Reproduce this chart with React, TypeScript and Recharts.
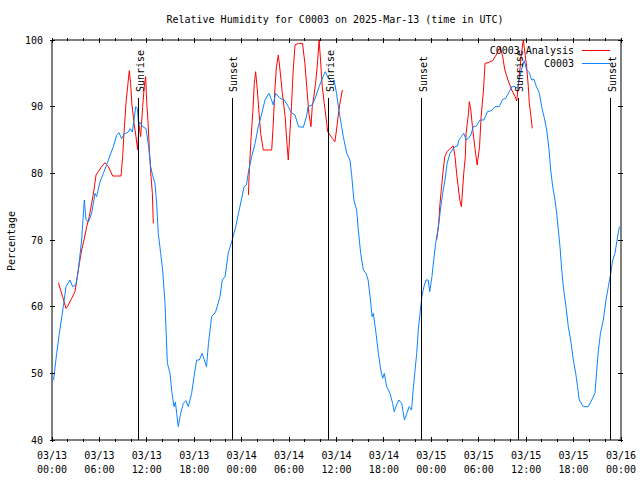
import React from 'react';
import { LineChart, Line, XAxis, YAxis, ReferenceLine } from 'recharts';

const FONT = '"DejaVu Sans Mono", monospace';
const RED = '#ff0000';
const BLUE = '#0a84ff';

// hours since 03/13 00:00 UTC
const obsHours = [
  0.2, 0.59, 0.93, 1.43, 1.77, 2.28, 2.61, 3.03, 3.33, 3.75, 4.09, 4.3, 4.6, 5.02, 5.44, 5.65,
  6.07, 6.5, 7.13, 7.76, 8.18, 8.48, 8.81, 9.11, 9.66, 9.87, 10.17, 10.38, 10.59, 10.8, 10.97,
  11.1, 11.47, 11.9, 12.23, 12.48, 12.73, 13.03, 13.24, 13.45, 13.75, 14.0, 14.3, 14.6, 14.93,
  15.19, 15.44, 15.61, 15.78, 15.98, 16.28, 16.62, 16.95, 17.25, 17.67, 17.97, 18.3, 18.64,
  19.0, 19.55, 19.8, 20.2, 20.7, 21.26, 21.55, 21.9, 22.3, 22.8, 23.25, 23.6, 24.0, 24.3, 24.6,
  24.9, 25.27, 25.7, 26.1, 26.5, 26.95, 27.46, 27.7, 28.0, 28.3, 28.85, 29.4, 29.9, 30.3, 30.75,
  31.2, 31.8, 32.2, 32.4, 32.9, 33.3, 33.8, 34.3, 34.6, 34.96, 35.4, 35.7, 36.0, 36.3, 36.65,
  36.86, 37.3, 37.7, 37.9, 38.2, 38.55, 38.76, 39.06, 39.4, 39.73, 40.0, 40.3, 40.5, 40.66, 41.0,
  41.3, 41.6, 41.85, 42.05, 42.35, 42.77, 43.1, 43.3, 43.6, 43.9, 44.25, 44.6, 44.9, 45.2, 45.5,
  45.7, 45.9, 46.15, 46.35, 46.57, 46.8, 47.07, 47.32, 47.6, 47.8, 48.08, 48.3, 48.55, 48.76,
  49.0, 49.2, 49.44, 49.73, 50.0, 50.36, 50.78, 51.0, 51.3, 51.5, 51.8, 52.1, 52.4, 52.7, 53.0,
  53.3, 53.7, 54.16, 54.66, 55.1, 55.6, 56.05, 56.6, 57.03, 57.4, 57.87, 58.17, 58.6, 58.9, 59.2,
  59.5, 59.76, 60.06, 60.4, 60.7, 60.99, 61.3, 61.67, 61.96, 62.26, 62.6, 62.9, 63.1, 63.36,
  63.65, 63.86, 64.07, 64.28, 64.5, 64.7, 65.04, 65.33, 65.63, 65.97, 66.27, 66.5, 66.72, 67.23,
  67.86, 68.3, 68.7, 68.9, 69.1, 69.4, 69.76, 70.1, 70.4, 70.7, 70.95, 71.24, 71.5, 71.8,
];
const obsValues = [
  49, 53, 56, 60, 63, 64, 63, 63.3, 65.5, 70, 76, 73, 72.7, 74, 77, 76.5,
  78.7, 80, 82, 84, 85.7, 86.1, 85.2, 85.9, 86.2, 86.7, 86.2, 88, 90, 89.7, 87.2,
  87.7, 87, 86.7, 84, 81, 79.7, 78.5, 75.5, 71, 68, 65.5, 60.5, 51.5, 50,
  47, 45, 45.7, 44, 42, 44, 45.5, 45.9, 45, 47, 49.5, 52, 52,
  53, 51, 54.5, 58.5, 59.2, 61.5, 64, 64.5, 68, 70, 72, 74, 76.25, 78, 78.25,
  80.5, 82.5, 84.5, 87, 88.75, 91, 92, 91.25, 90.25, 92, 91.25, 91, 90, 89.1, 88.75,
  87, 86.9, 88.5, 90, 90.25, 91.25, 93, 94.5, 95.25, 94.25, 93.75, 94, 92, 89.5, 87,
  85.5, 83, 82, 80, 76, 74.5, 71.5, 68, 65.5, 65, 64, 61, 58.5, 59, 56,
  53, 50.5, 49.25, 50, 48, 47, 45.5, 44.25, 45.25, 46, 45.5, 43, 44, 45, 44.5,
  47.5, 50, 53, 56.5, 59, 61.5, 63, 64, 64, 62.25, 64.5, 67, 69.5, 71,
  73, 75, 77, 79, 81.5, 83, 83.75, 84, 84.1, 85, 85.5, 86, 85, 85.25, 85.75,
  87, 87.1, 88, 88, 89.25, 89.4, 90, 90, 91.1, 91.25, 92.25, 93, 93, 92.75, 94.5,
  96, 96.9, 95.5, 95.1, 94, 94.1, 93, 92, 90, 88.5, 86.5, 83.5, 80.5, 78,
  76, 74, 71.5, 69, 65.5, 63, 60, 57, 55, 52, 50, 48, 46, 45,
  45, 46, 47, 50, 53, 56, 58, 61, 63, 65, 67, 68, 70, 72,
];

// analysis has gaps (null) between the three runs
const anaHours = [
  0.8, 1.35, 1.77, 2.07, 2.49, 2.91, 3.2, 3.46, 3.75, 4.05, 4.39, 4.72, 5.02, 5.31, 5.57, 5.86,
  6.28, 6.7, 7.13, 7.68, 8.18, 8.73, 8.94, 9.11, 9.36, 9.57, 9.78, 9.95, 10.1, 10.38, 10.63,
  10.84, 11.0, 11.22, 11.47, 11.68, 11.85, 11.98, 12.15, 12.32, 12.53, 12.7, 12.82,
  18,
  24.85, 24.97, 25.2, 25.4, 25.6, 25.77, 25.98, 26.2, 26.4, 26.74, 27.16, 27.8, 28.0, 28.2, 28.4,
  28.64, 28.85, 29.15, 29.5, 29.7, 29.9, 30.1, 30.3, 30.5, 30.75, 31.2, 31.7, 32.0, 32.3, 32.5,
  32.77, 32.93, 33.14, 33.35, 33.56, 33.8, 33.98, 34.2, 34.45, 34.66, 34.88, 35.17, 35.47, 35.8,
  36.0, 36.2, 36.4, 36.74,
  42,
  48.67, 48.9, 49.1, 49.3, 49.5, 49.7, 50.0, 50.4, 50.78, 51.0, 51.2, 51.4, 51.6, 51.8, 51.95,
  52.1, 52.3, 52.4, 52.7, 52.8, 53.0, 53.2, 53.4, 53.6, 53.8, 54.1, 54.3, 54.6, 54.8, 55.2,
  55.76, 56.2, 56.7, 57.03, 57.3, 57.7, 58.17, 58.6, 58.8, 59.0, 59.2, 59.4, 59.64, 59.8, 60.06,
  60.27, 60.4, 60.56, 60.77,
];
const anaValues = [
  63.6, 61.5, 59.75, 60.25, 61.25, 62.25, 64.5, 66.5, 68.5, 70, 72, 73.5, 75.5, 77.5, 79.75, 80.25,
  81, 81.6, 81, 79.6, 79.6, 79.6, 82.5, 86, 90.5, 93, 95.4, 93.5, 90.5, 87.5, 85.5,
  83.5, 87.25, 85.5, 90, 93, 94.5, 90.75, 87.75, 83.5, 79.5, 77, 72.5,
  null,
  76.75, 80.5, 85.5, 89, 93.5, 95.25, 92.5, 89, 86, 83.5, 83.5, 83.5, 87.5, 92.5, 96,
  97.75, 95.5, 92, 88.5, 85, 82, 86, 90, 95, 99.25, 99.5, 99.5, 96.5, 92, 89,
  87, 90, 91.5, 93.5, 96, 100, 97, 93, 90.5, 88.5, 86.25, 85.75, 85.25, 84.75,
  86.5, 88.5, 90.25, 92.5,
  null,
  70, 72, 75.5, 78, 80.5, 82.5, 83.25, 83.75, 84.1, 82.5, 80, 78, 76, 75, 77.5,
  80, 82.5, 86, 89, 90.75, 89.5, 87, 85, 83, 81.25, 84, 88.5, 92.5, 96.5, 96.6,
  96.9, 97.75, 99, 97.5, 95.5, 94, 92.5, 91.5, 90.85, 93, 95.5, 98, 100, 98.5, 96,
  93, 90.5, 89, 86.75,
];

const xTicks = [0, 2, 4, 6, 8, 10, 12, 14, 16, 18, 20, 22, 24, 26, 28, 30, 32, 34, 36, 38, 40, 42, 44, 46, 48, 50, 52, 54, 56, 58, 60, 62, 64, 66, 68, 70, 72];
const xTickDates = ['03/13', '03/13', '03/13', '03/13', '03/14', '03/14', '03/14', '03/14', '03/15', '03/15', '03/15', '03/15', '03/16'];
const xTickTimes = ['00:00', '06:00', '12:00', '18:00', '00:00', '06:00', '12:00', '18:00', '00:00', '06:00', '12:00', '18:00', '00:00'];
const yTicks = [40, 50, 60, 70, 80, 90, 100];

const sunHours = [11.0, 22.78, 35.05, 46.8, 58.97, 70.73];
const sunNames = ['Sunrise', 'Sunset', 'Sunrise', 'Sunset', 'Sunrise', 'Sunset'];
const sunLineTop = 91.3;

const obsData = obsHours.map((h, i) => ({ h, v: obsValues[i] }));
const anaData = anaHours.map((h, i) => ({ h, v: anaValues[i] }));

const txt = { fontFamily: FONT, fontSize: 10, fill: '#000' };

function BottomTick(props: any) {
  const { x, y, payload } = props;
  const v = payload.value;
  const major = v % 6 === 0;
  const i = v / 6;
  return (
    <g>
      <line x1={x} y1={y} x2={x} y2={y - (major ? 5 : 3)} stroke="#000" shapeRendering="crispEdges" />
      {major && (
        <>
          <text x={x} y={y + 17} textAnchor="middle" {...txt}>{xTickDates[i]}</text>
          <text x={x} y={y + 31} textAnchor="middle" {...txt}>{xTickTimes[i]}</text>
        </>
      )}
    </g>
  );
}

function TopTick(props: any) {
  const { x, y, payload } = props;
  const major = payload.value % 6 === 0;
  return <line x1={x} y1={y} x2={x} y2={y + (major ? 5 : 3)} stroke="#000" shapeRendering="crispEdges" />;
}

function LeftTick(props: any) {
  const { x, y, payload } = props;
  return (
    <g>
      <line x1={x} y1={y} x2={x + 5} y2={y} stroke="#000" shapeRendering="crispEdges" />
      <text x={x - 7} y={y + 3.5} textAnchor="end" {...txt}>{payload.value}</text>
    </g>
  );
}

function RightTick(props: any) {
  const { x, y } = props;
  return <line x1={x} y1={y} x2={x - 5} y2={y} stroke="#000" shapeRendering="crispEdges" />;
}

function sunLabel(name: string) {
  return (p: any) => {
    const vb = p.viewBox || {};
    const x = vb.x + 5;
    const y = vb.y - 6;
    return (
      <text transform={`translate(${x},${y}) rotate(-90)`} textAnchor="start" {...txt}>
        {name}
      </text>
    );
  };
}

export default function App() {
  return (
    <div style={{ position: 'absolute', left: 0, top: 0, width: 640, height: 480, background: '#fff' }}>
      <LineChart width={640} height={480} data={obsData} margin={{ top: 0, right: 0, bottom: 0, left: 0 }}>
        <XAxis
          xAxisId="b"
          type="number"
          dataKey="h"
          domain={[0, 72]}
          ticks={xTicks}
          interval={0}
          allowDataOverflow
          orientation="bottom"
          height={40}
          tickSize={0}
          tickLine={false}
          axisLine={{ stroke: '#000' }}
          tick={BottomTick}
        />
        <XAxis
          xAxisId="t"
          type="number"
          dataKey="h"
          domain={[0, 72]}
          ticks={xTicks}
          interval={0}
          allowDataOverflow
          orientation="top"
          height={40}
          tickSize={0}
          tickLine={false}
          axisLine={{ stroke: '#000' }}
          tick={TopTick}
        />
        <YAxis
          yAxisId="l"
          type="number"
          domain={[40, 100]}
          ticks={yTicks}
          interval={0}
          allowDataOverflow
          orientation="left"
          width={52}
          tickSize={0}
          tickLine={false}
          axisLine={{ stroke: '#000' }}
          tick={LeftTick}
        />
        <YAxis
          yAxisId="r"
          type="number"
          domain={[40, 100]}
          ticks={yTicks}
          interval={0}
          allowDataOverflow
          orientation="right"
          width={19}
          tickSize={0}
          tickLine={false}
          axisLine={{ stroke: '#000' }}
          tick={RightTick}
        />
        <Line
          xAxisId="b"
          yAxisId="l"
          data={anaData}
          dataKey="v"
          name="C0003 Analysis"
          stroke={RED}
          strokeWidth={1}
          dot={false}
          activeDot={false}
          connectNulls={false}
          isAnimationActive={false}
        />
        <Line
          xAxisId="b"
          yAxisId="l"
          data={obsData}
          dataKey="v"
          name="C0003"
          stroke={BLUE}
          strokeWidth={1}
          dot={false}
          activeDot={false}
          isAnimationActive={false}
        />
        {sunHours.map((h, i) => (
          <ReferenceLine
            key={i}
            xAxisId="b"
            yAxisId="l"
            segment={[{ x: h, y: 40 }, { x: h, y: sunLineTop }]}
            stroke="#000"
            strokeWidth={1}
            shapeRendering="crispEdges"
            label={sunLabel(sunNames[i])}
          />
        ))}
      </LineChart>
      <svg width={640} height={480} style={{ position: 'absolute', left: 0, top: 0, pointerEvents: 'none' }}>
        <text x={335} y={23} textAnchor="middle" {...txt}>
          Relative Humidity for C0003 on 2025-Mar-13 (time in UTC)
        </text>
        <text transform="translate(15,241) rotate(-90)" textAnchor="middle" {...txt}>
          Percentage
        </text>
        <text x={574} y={53.5} textAnchor="end" {...txt}>C0003 Analysis</text>
        <line x1={582} y1={50.5} x2={610} y2={50.5} stroke={RED} />
        <text x={574} y={66.5} textAnchor="end" {...txt}>C0003</text>
        <line x1={582} y1={63.5} x2={610} y2={63.5} stroke={BLUE} />
      </svg>
    </div>
  );
}
